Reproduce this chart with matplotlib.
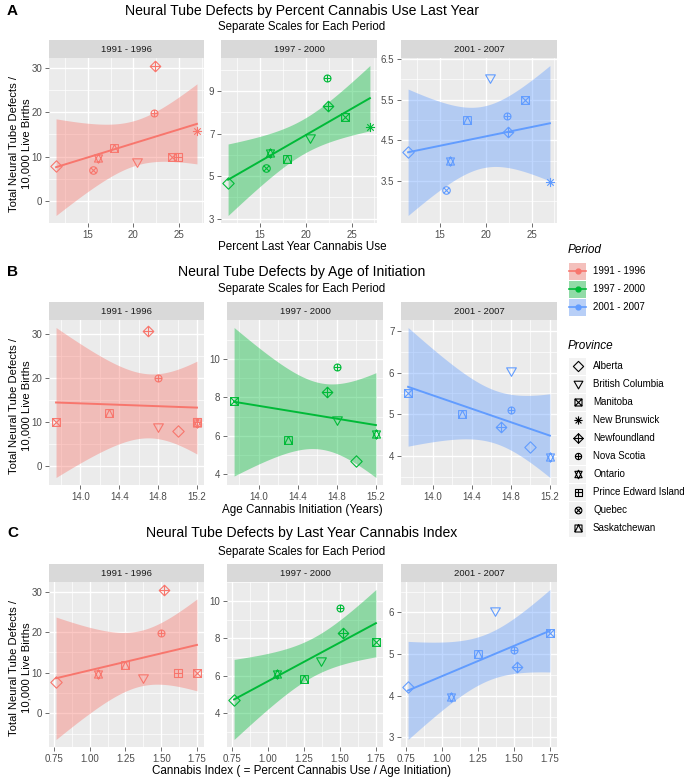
import numpy as np
import matplotlib
matplotlib.use('Agg')
import matplotlib.pyplot as plt
from matplotlib.path import Path
from matplotlib.markers import MarkerStyle
from matplotlib.patches import Rectangle

plt.rcParams['font.family'] = ['Liberation Sans', 'DejaVu Sans']

# ---------------- data ----------------
provinces = ['Alberta', 'British Columbia', 'Manitoba', 'New Brunswick', 'Newfoundland',
             'Nova Scotia', 'Ontario', 'Prince Edward Island', 'Quebec', 'Saskatchewan']
periods = ['1991 - 1996', '1997 - 2000', '2001 - 2007']

pct_use = [11.5, 20.4, 24.3, 27.0, 22.4, 22.3, 16.1, 24.9, 15.6, 17.9]
age_init = [15.0, 14.8, 13.75, np.nan, 14.7, 14.8, 15.2, 15.2, np.nan, 14.3]
cannabis_index = [0.765, 1.37, 1.75, np.nan, 1.52, 1.50, 1.06, 1.62, np.nan, 1.25]

ntd_1991 = [7.8, 8.8, 10.0, 15.8, 30.5, 19.8, 9.6, 10.0, 6.9, 12.0]
ntd_1997 = [4.7, 6.8, 7.8, 7.3, 8.3, 9.6, 6.1, np.nan, 5.4, 5.8]
ntd_2001 = [4.2, 6.03, 5.5, 3.47, 4.7, 5.1, 3.98, np.nan, 3.27, 5.0]

ntd_by_period = [ntd_1991, ntd_1997, ntd_2001]

section_titles = ['Neural Tube Defects by Percent Cannabis Use Last Year',
                  'Neural Tube Defects by Age of Initiation',
                  'Neural Tube Defects by Last Year Cannabis Index']
section_subtitle = 'Separate Scales for Each Period'
section_letters = ['A', 'B', 'C']
section_xlabels = ['Percent Last Year Cannabis Use',
                   'Age Cannabis Initiation (Years)',
                   'Cannabis Index ( = Percent Cannabis Use / Age Initiation)']
section_x = [pct_use, age_init, cannabis_index]

xticks_sections = [[15, 20, 25], [14.0, 14.4, 14.8, 15.2], [0.75, 1.00, 1.25, 1.50, 1.75]]
xticklabels_sections = [['15', '20', '25'], ['14.0', '14.4', '14.8', '15.2'],
                        ['0.75', '1.00', '1.25', '1.50', '1.75']]
yticks_sections = [
    [[0, 10, 20, 30], [3, 5, 7, 9], [3.5, 4.5, 5.5, 6.5]],
    [[0, 10, 20, 30], [4, 6, 8, 10], [4, 5, 6, 7]],
    [[0, 10, 20, 30], [4, 6, 8, 10], [3, 4, 5, 6]],
]
yticklabels_sections = [
    [['0', '10', '20', '30'], ['3', '5', '7', '9'], ['3.5', '4.5', '5.5', '6.5']],
    [['0', '10', '20', '30'], ['4', '6', '8', '10'], ['4', '5', '6', '7']],
    [['0', '10', '20', '30'], ['4', '6', '8', '10'], ['3', '4', '5', '6']],
]

period_colors = ['#F8766D', '#00BA38', '#619CFF']
T975 = {5: 2.571, 6: 2.447, 7: 2.365, 8: 2.306, 9: 2.262}

# ---------------- marker shapes ----------------
def poly(pts):
    verts = list(pts) + [pts[0]]
    codes = [Path.MOVETO] + [Path.LINETO] * (len(pts) - 1) + [Path.CLOSEPOLY]
    return Path(verts, codes)

def seg(p0, p1):
    return Path([p0, p1], [Path.MOVETO, Path.LINETO])

def circ(r=1.0):
    c = Path.unit_circle()
    return Path(c.vertices * r, c.codes)

sq = [(-1, -1), (1, -1), (1, 1), (-1, 1)]
dia = [(0, 1), (1, 0), (0, -1), (-1, 0)]
d = 0.7071
shape_paths = {
    'Alberta': poly(dia),
    'British Columbia': poly([(-1, 0.75), (1, 0.75), (0, -1.0)]),
    'Manitoba': Path.make_compound_path(poly(sq), seg((-1, -1), (1, 1)), seg((-1, 1), (1, -1))),
    'New Brunswick': Path.make_compound_path(seg((-1, 0), (1, 0)), seg((0, -1), (0, 1)),
                                             seg((-d, -d), (d, d)), seg((-d, d), (d, -d))),
    'Newfoundland': Path.make_compound_path(poly(dia), seg((-1, 0), (1, 0)), seg((0, -1), (0, 1))),
    'Nova Scotia': Path.make_compound_path(circ(), seg((-1, 0), (1, 0)), seg((0, -1), (0, 1))),
    'Ontario': Path.make_compound_path(poly([(-0.85, -0.75), (0.85, -0.75), (0, 1.0)]),
                                       poly([(-0.85, 0.75), (0.85, 0.75), (0, -1.0)])),
    'Prince Edward Island': Path.make_compound_path(poly(sq), seg((-1, 0), (1, 0)), seg((0, -1), (0, 1))),
    'Quebec': Path.make_compound_path(circ(), seg((-d, -d), (d, d)), seg((-d, d), (d, -d))),
    'Saskatchewan': Path.make_compound_path(poly(sq), Path([(-1, -1), (0, 1), (1, -1)],
                                                          [Path.MOVETO, Path.LINETO, Path.LINETO])),
}
shape_size = {
    'Alberta': 8.2, 'British Columbia': 7.0, 'Manitoba': 5.6, 'New Brunswick': 6.6,
    'Newfoundland': 7.6, 'Nova Scotia': 5.0, 'Ontario': 6.8, 'Prince Edward Island': 5.6,
    'Quebec': 5.4, 'Saskatchewan': 5.6,
}

# ---------------- layout (pixels) ----------------
W, H = 688, 782
fig = plt.figure(figsize=(W / 100, H / 100), dpi=100)

def rect(x0, y0, x1, y1):
    return [x0 / W, 1 - y1 / H, (x1 - x0) / W, (y1 - y0) / H]

row_strip = [(40, 58, 223), (302, 320, 485), (564, 582, 747)]
row_cols = [
    [(49, 204), (221, 377), (401, 557)],
    [(49, 204), (227, 383), (401, 557)],
    [(49, 204), (227, 383), (401, 557)],
]
row_text = [  # letter/title y, subtitle y, xlabel y
    (11, 27, 247),
    (272, 289, 510),
    (533, 552, 771),
]

TICK_COL = '#4D4D4D'

def minor_positions(ticks):
    t = np.asarray(ticks, dtype=float)
    step = t[1] - t[0]
    return list(np.concatenate([[t[0] - step / 2], (t[:-1] + t[1:]) / 2, [t[-1] + step / 2]]))

for si in range(3):
    st, sb, pb = row_strip[si]
    xs_all = np.asarray(section_x[si], dtype=float)
    for pi in range(3):
        x0, x1 = row_cols[si][pi]
        color = period_colors[pi]
        ax = fig.add_axes(rect(x0, sb, x1, pb))
        ax.set_facecolor('#EBEBEB')
        for sp in ax.spines.values():
            sp.set_visible(False)
        ys_all = np.asarray(ntd_by_period[pi], dtype=float)
        m = ~np.isnan(xs_all) & ~np.isnan(ys_all)
        xs, ys = xs_all[m], ys_all[m]
        n = len(xs)
        slope, icpt = np.polyfit(xs, ys, 1)
        xx = np.linspace(xs.min(), xs.max(), 80)
        fit = icpt + slope * xx
        resid = ys - (icpt + slope * xs)
        s = np.sqrt(np.sum(resid ** 2) / (n - 2))
        sxx = np.sum((xs - xs.mean()) ** 2)
        se = s * np.sqrt(1.0 / n + (xx - xs.mean()) ** 2 / sxx)
        lo, hi = fit - T975[n - 2] * se, fit + T975[n - 2] * se
        ax.fill_between(xx, lo, hi, color=color, alpha=0.4, lw=0, zorder=2)
        ax.plot(xx, fit, color=color, lw=1.4, zorder=3)
        provs = [p for p, k in zip(provinces, m) if k]
        for p, xv, yv in zip(provs, xs, ys):
            ax.plot([xv], [yv], ls='none', marker=MarkerStyle(shape_paths[p]),
                    markersize=shape_size[p], mfc='none', mec=color, mew=0.8, zorder=4,
                    clip_on=False)
        xt = xticks_sections[si]
        yt = yticks_sections[si][pi]
        ax.set_xticks(xt)
        ax.set_xticklabels(xticklabels_sections[si])
        ax.set_yticks(yt)
        ax.set_yticklabels(yticklabels_sections[si][pi])
        ax.set_xticks(minor_positions(xt), minor=True)
        ax.set_yticks(minor_positions(yt), minor=True)
        # limits set after ticks (ggplot-style 5% expansion of data + ribbon)
        xr = xs.max() - xs.min()
        ax.set_xlim(xs.min() - 0.05 * xr, xs.max() + 0.05 * xr)
        ymn = min(ys.min(), lo.min())
        ymx = max(ys.max(), hi.max())
        yr = ymx - ymn
        ax.set_ylim(ymn - 0.05 * yr, ymx + 0.05 * yr)
        ax.tick_params(which='major', length=2.75, width=0.5, color='#333333',
                       labelsize=7, labelcolor=TICK_COL, pad=2)
        ax.tick_params(which='minor', length=0)
        ax.grid(which='major', color='white', lw=1.0, zorder=0)
        ax.grid(which='minor', color='white', lw=0.5, zorder=0)
        ax.set_axisbelow(True)
        # strip
        sax = fig.add_axes(rect(x0, st, x1, sb))
        sax.set_facecolor('#D9D9D9')
        sax.set_xticks([]); sax.set_yticks([])
        for sp in sax.spines.values():
            sp.set_visible(False)
        sax.text(0.5, 0.5, periods[pi], ha='center', va='center', fontsize=6.8, color='#1A1A1A',
                 transform=sax.transAxes)

# ---------------- overlay for text and legend ----------------
ov = fig.add_axes([0, 0, 1, 1], facecolor='none')
ov.set_xlim(0, W)
ov.set_ylim(H, 0)
ov.axis('off')

ylab = 'Total Neural Tube Defects /\n10,000 Live Births'
for si in range(3):
    ty, sy, xly = row_text[si]
    st, sb, pb = row_strip[si]
    ov.text(7, ty, section_letters[si], fontsize=11, fontweight='bold', ha='left', va='center')
    ov.text(302, ty, section_titles[si], fontsize=10.1, ha='center', va='center', color='black')
    ov.text(302, sy, section_subtitle, fontsize=8.3, ha='center', va='center', color='black')
    ov.text(302, xly, section_xlabels[si], fontsize=8.4, ha='center', va='center', color='black')
    ov.text(20, (st + pb) / 2 + 12, ylab, fontsize=8.1, ha='center', va='center', rotation=90,
            linespacing=1.35)

# legend: Period
ov.text(568, 250, 'Period', fontsize=8.5, style='italic', ha='left', va='center')
key = 17
for i, (lab, col) in enumerate(zip(periods, period_colors)):
    cy = 271 + i * 18
    ov.add_patch(Rectangle((569, cy - key / 2), key, key, facecolor='#F2F2F2', edgecolor='none'))
    ov.add_patch(Rectangle((569, cy - key / 2), key, key, facecolor=col, alpha=0.4, edgecolor='none'))
    ov.plot([569, 569 + key], [cy, cy], color=col, lw=1.2)
    ov.plot([569 + key / 2], [cy], marker='o', color=col, markersize=3.5)
    ov.text(593, cy, lab, fontsize=7, ha='left', va='center', color='black')

# legend: Province
ov.text(568, 346, 'Province', fontsize=8.5, style='italic', ha='left', va='center')
for i, p in enumerate(provinces):
    cy = 366 + i * 18
    ov.add_patch(Rectangle((569, cy - key / 2), key, key, facecolor='#F2F2F2', edgecolor='none'))
    ov.plot([569 + key / 2], [cy], ls='none', marker=MarkerStyle(shape_paths[p]),
            markersize=shape_size[p] * 0.9, mfc='none', mec='black', mew=0.8)
    ov.text(593, cy, p, fontsize=7, ha='left', va='center', color='black')

fig.savefig('out.png', dpi=100, facecolor='white')
